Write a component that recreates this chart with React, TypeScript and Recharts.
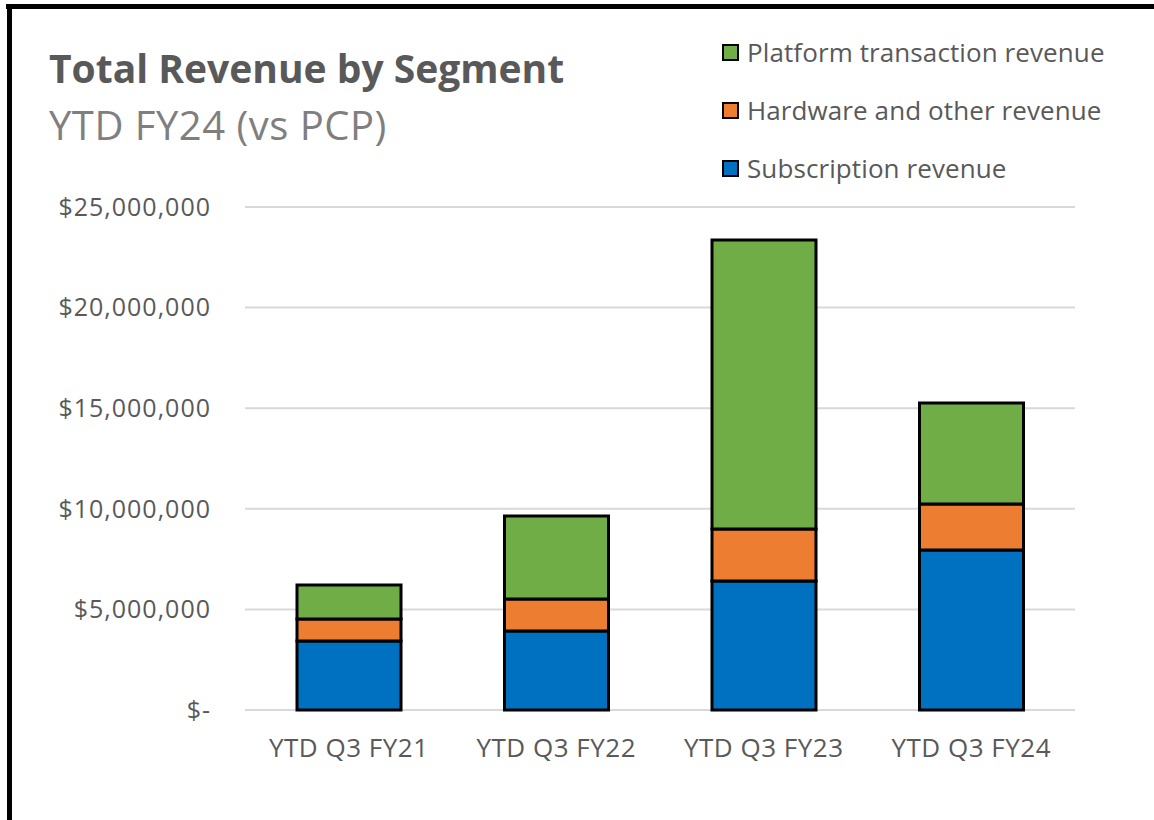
import React from "react";
import { BarChart, Bar, XAxis, YAxis, CartesianGrid } from "recharts";

const CATEGORIES = ["YTD Q3 FY21", "YTD Q3 FY22", "YTD Q3 FY23", "YTD Q3 FY24"];
const SUBSCRIPTION = [3430000, 3930000, 6410000, 7950000];
const HARDWARE = [1090000, 1590000, 2590000, 2290000];
const PLATFORM = [1690000, 4120000, 14360000, 5020000];
const Y_TICKS = [0, 5000000, 10000000, 15000000, 20000000, 25000000];

const SERIES = [
  { key: "subscription", name: "Subscription revenue", color: "#0070C0" },
  { key: "hardware", name: "Hardware and other revenue", color: "#ED7D31" },
  { key: "platform", name: "Platform transaction revenue", color: "#70AD47" },
];

const data = CATEGORIES.map((cat, i) => ({
  cat,
  subscription: SUBSCRIPTION[i],
  hardware: HARDWARE[i],
  platform: PLATFORM[i],
}));

const FONT = "'Open Sans', 'Noto Sans', sans-serif";
const TEXT = "#595959";

const fmtDollar = (v: number) => (v === 0 ? "$-" : "$" + v.toLocaleString("en-US"));

function LegendBox() {
  // Excel lists the stack top-down, so reverse the series order
  return (
    <div style={{ fontFamily: FONT }}>
      {[...SERIES].reverse().map((s) => (
        <div key={s.key} style={{ display: "flex", alignItems: "center", height: 58 }}>
          <span
            style={{
              display: "inline-block",
              width: 13,
              height: 13,
              background: s.color,
              border: "2.5px solid #000",
              marginRight: 8,
            }}
          />
          <span style={{ fontSize: 26, letterSpacing: 0.1, color: TEXT, whiteSpace: "nowrap" }}>{s.name}</span>
        </div>
      ))}
    </div>
  );
}

export default function App() {
  return (
    <div style={{ position: "absolute", left: 0, top: 0, width: 1154, height: 820, background: "#fff", overflow: "hidden" }}>
      <BarChart
        width={1154}
        height={820}
        data={data}
        margin={{ top: 207, right: 79, bottom: 0, left: 0 }}
        barSize={104}
      >
        <CartesianGrid vertical={false} stroke="#D9D9D9" strokeWidth={2} />
        <XAxis
          dataKey="cat"
          height={110}
          axisLine={false}
          tickLine={false}
          tickMargin={23}
          tick={{ fill: TEXT, fontSize: 26, fontFamily: FONT, letterSpacing: 0.5 }}
          interval={0}
        />
        <YAxis
          width={245}
          type="number"
          domain={[0, 25000000]}
          ticks={Y_TICKS}
          axisLine={false}
          tickLine={false}
          tickMargin={28}
          tickFormatter={fmtDollar}
          tick={{ fill: TEXT, fontSize: 25, fontFamily: FONT, letterSpacing: 1 }}
        />
        {SERIES.map((s) => (
          <Bar
            key={s.key}
            dataKey={s.key}
            stackId="rev"
            fill={s.color}
            stroke="#000"
            strokeWidth={3}
            isAnimationActive={false}
          />
        ))}
      </BarChart>

      <div style={{ position: "absolute", left: 6, top: 4, width: 1160, height: 5, background: "#000" }} />
      <div style={{ position: "absolute", left: 7, top: 4, width: 5, height: 830, background: "#000" }} />

      <div style={{ position: "absolute", left: 49, top: 41, fontFamily: FONT, fontWeight: 700, fontSize: 39, color: TEXT, whiteSpace: "nowrap" }}>
        Total Revenue by Segment
      </div>
      <div style={{ position: "absolute", left: 49, top: 97, fontFamily: FONT, fontSize: 40, letterSpacing: 0.5, color: "#7F7F7F", whiteSpace: "nowrap" }}>
        YTD FY24 (vs PCP)
      </div>
      <div style={{ position: "absolute", left: 722, top: 23 }}>
        <LegendBox />
      </div>
    </div>
  );
}
